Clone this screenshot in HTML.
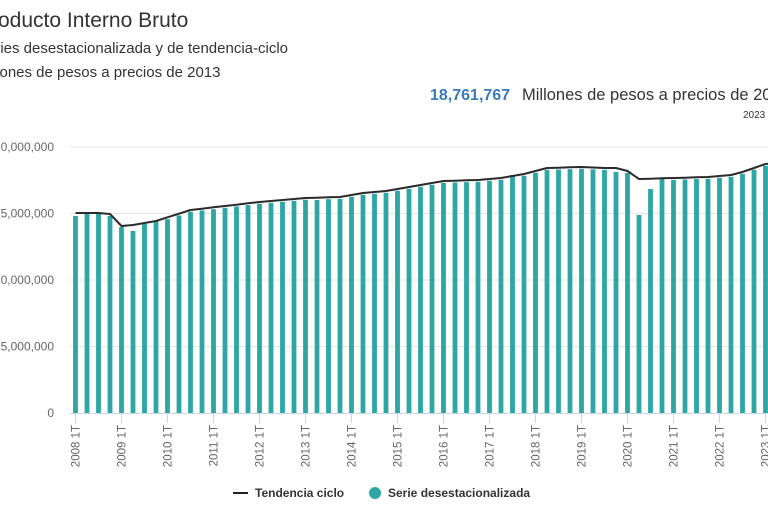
<!DOCTYPE html>
<html><head><meta charset="utf-8"><style>
html,body{margin:0;padding:0;background:#fff;width:768px;height:512px;overflow:hidden}
svg{display:block;font-family:"Liberation Sans",sans-serif}
</style></head><body>
<svg id="s" width="768" height="512" xmlns="http://www.w3.org/2000/svg">
<text x="-23" y="27" font-size="21" fill="#333">Producto Interno Bruto</text>
<text x="-23" y="53" font-size="15" fill="#333">Series desestacionalizada y de tendencia-ciclo</text>
<text x="-23" y="77" font-size="15" fill="#333">Millones de pesos a precios de 2013</text>
<text x="430" y="100" font-size="16" font-weight="bold" fill="#3a7ab8">18,761,767</text>
<text x="522" y="100" font-size="16.5" fill="#333">Millones de pesos a precios de 2013</text>
<text x="743" y="118" font-size="10" fill="#333">2023</text>
<g id="grid"></g><g id="bars"></g><g id="ax"></g>
<g font-size="12" font-weight="bold" fill="#333">
<line x1="233" y1="493" x2="248" y2="493" stroke="#222" stroke-width="2"/>
<text x="255" y="497">Tendencia ciclo</text>
<circle cx="375" cy="493" r="6" fill="#2ea6a3"/>
<text x="388" y="497">Serie desestacionalizada</text>
</g>
</svg>
<script>
var NS="http://www.w3.org/2000/svg";
function el(p,t,a,txt){var e=document.createElementNS(NS,t);for(var k in a)e.setAttribute(k,a[k]);if(txt)e.textContent=txt;document.getElementById(p).appendChild(e);return e;}
var ys=[[413,"0"],[346.5,"5,000,000"],[280,"10,000,000"],[213.5,"15,000,000"],[147,"20,000,000"]];
ys.forEach(function(v){if(v[1]!="0")el("grid","line",{x1:70,x2:768,y1:v[0],y2:v[0],stroke:"#e6e6e6","stroke-width":1});
el("grid","text",{x:54,y:v[0]+4,"font-size":12,fill:"#666","text-anchor":"end"},v[1]);});
var key=[[0,213],[2,213],[3,214],[4,226],[5,225],[7,221],[10,210],[16,202],[20,198],[23,197],[25,193],[27,191],[30,185],[32,181],[35,180],[37,178],[39,174],[41,168],[44,167],[46,168],[47,168],[48,171],[49,179],[52,178],[55,177],[57,175],[58,172],[60,164],[61,163]];
function ty(i){for(var k=0;k<key.length-1;k++){var a=key[k],b=key[k+1];if(i>=a[0]&&i<=b[0])return a[1]+(b[1]-a[1])*(i-a[0])/(b[0]-a[0]);}return 163;}
var ov={0:216,1:214,2:214,3:216,4:227,5:231,6:224,7:221,21:200,38:175,47:172,48:173,49:215,50:189,51:179,54:179};
var pts=[];
for(var i=0;i<=61;i++){var x=75.5+11.5*i;var t=ty(i);pts.push(x.toFixed(1)+","+t.toFixed(1));
if(i<=60){var b=ov[i]!==undefined?ov[i]:t+1.8;el("bars","rect",{x:x-2.4,y:b,width:4.8,height:413-b,fill:"#2ea6a3"});}}
el("bars","polyline",{points:pts.join(" "),fill:"none",stroke:"#2b2b2b","stroke-width":2,"stroke-linejoin":"round"});
el("ax","line",{x1:70,x2:768,y1:413.5,y2:413.5,stroke:"#ccd6eb","stroke-width":1});
for(var y=0;y<=15;y++){var x=75.5+46*y;el("ax","line",{x1:x,x2:x,y1:413,y2:423,stroke:"#ccd6eb"});
el("ax","text",{x:0,y:0,"font-size":11.5,fill:"#666","text-anchor":"end",transform:"translate("+(x+4)+",425) rotate(-90)"},(2008+y)+" 1T");}
</script>
</body></html>
